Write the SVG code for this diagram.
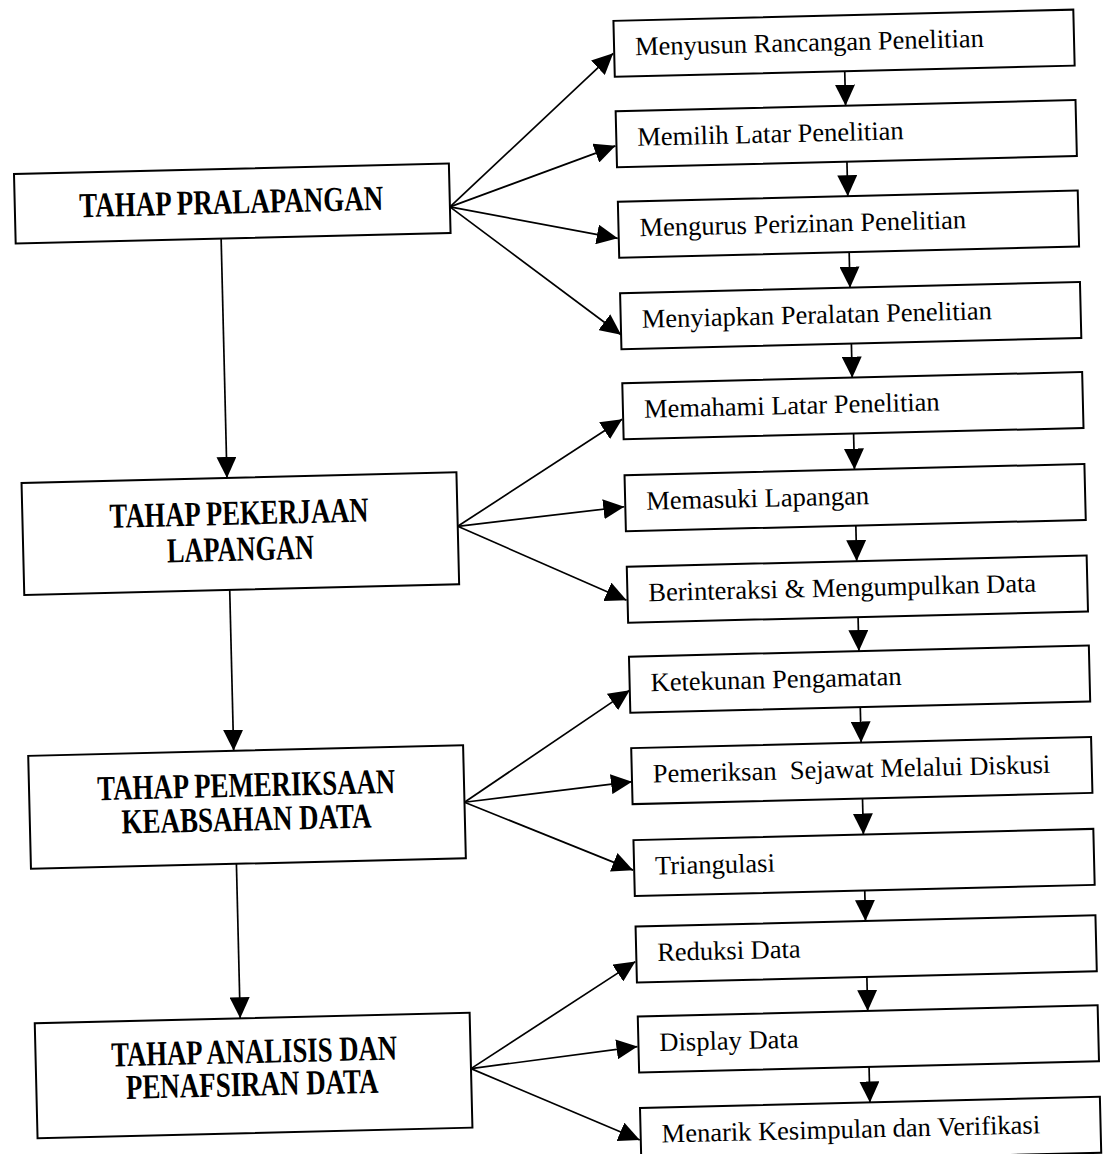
<svg xmlns="http://www.w3.org/2000/svg" width="1107" height="1154" viewBox="0 0 1107 1154">
<defs>
<marker id="ah" markerUnits="userSpaceOnUse" viewBox="0 0 21 20" refX="21" refY="10" markerWidth="21" markerHeight="20" orient="auto"><path d="M0,0 L21,10 L0,20 z" fill="#000"/></marker>
</defs>
<style>
.box{fill:#fff;stroke:#000;stroke-width:2}
.t{font-family:"Liberation Serif","Times New Roman",serif;font-size:26.5px;fill:#000}
.b{font-family:"Liberation Serif","Times New Roman",serif;font-size:35px;font-weight:bold;fill:#000}
.c{stroke:#000;stroke-width:1.7;fill:none;marker-end:url(#ah)}
</style>
<rect width="1107" height="1154" fill="#fff"/>
<g transform="rotate(-1.4 553 577)">
<g id="connectors">
<line class="c" x1="229.5" y1="230.5" x2="229.5" y2="470"/>
<line class="c" x1="229.5" y1="582" x2="229.5" y2="743"/>
<line class="c" x1="229.5" y1="856" x2="229.5" y2="1010.5"/>
<line class="c" x1="857" y1="78.5" x2="857" y2="113"/>
<line class="c" x1="857" y1="169" x2="857" y2="203.5"/>
<line class="c" x1="857" y1="259.5" x2="857" y2="295"/>
<line class="c" x1="857" y1="351" x2="857" y2="385"/>
<line class="c" x1="857" y1="441" x2="857" y2="477"/>
<line class="c" x1="857" y1="533" x2="857" y2="568.5"/>
<line class="c" x1="857" y1="624.5" x2="857" y2="658.5"/>
<line class="c" x1="857" y1="714.5" x2="857" y2="750"/>
<line class="c" x1="857" y1="806" x2="857" y2="842"/>
<line class="c" x1="857" y1="898" x2="857" y2="928.5"/>
<line class="c" x1="857" y1="984.5" x2="857" y2="1018.5"/>
<line class="c" x1="857" y1="1074.5" x2="857" y2="1110"/>
<line class="c" x1="459" y1="204.5" x2="626" y2="55"/>
<line class="c" x1="459" y1="204.5" x2="626" y2="147.5"/>
<line class="c" x1="459" y1="204.5" x2="626" y2="240"/>
<line class="c" x1="459" y1="204.5" x2="627" y2="336.5"/>
<line class="c" x1="459" y1="524" x2="626" y2="421"/>
<line class="c" x1="459" y1="524" x2="626" y2="508.5"/>
<line class="c" x1="459" y1="524" x2="626" y2="602"/>
<line class="c" x1="459" y1="800" x2="627" y2="692"/>
<line class="c" x1="459" y1="800" x2="627" y2="783.5"/>
<line class="c" x1="459" y1="800" x2="626" y2="872"/>
<line class="c" x1="459" y1="1066.5" x2="626" y2="963.5"/>
<line class="c" x1="459" y1="1066.5" x2="626" y2="1048.5"/>
<line class="c" x1="459" y1="1066.5" x2="626" y2="1142"/>
</g>
<g id="pralapangan"><rect class="box" x="24" y="161" width="435" height="69.5"/><text class="b" x="88.4" y="205.8" textLength="304" lengthAdjust="spacingAndGlyphs">TAHAP PRALAPANGAN</text></g>
<g id="pekerjaan"><rect class="box" x="24" y="470" width="435" height="112"/><text class="b" x="111.2" y="517" textLength="259" lengthAdjust="spacingAndGlyphs">TAHAP PEKERJAAN</text><text class="b" x="167.7" y="553" textLength="147" lengthAdjust="spacingAndGlyphs">LAPANGAN</text></g>
<g id="pemeriksaan"><rect class="box" x="24" y="743" width="435" height="113"/><text class="b" x="92.2" y="789" textLength="298" lengthAdjust="spacingAndGlyphs">TAHAP PEMERIKSAAN</text><text class="b" x="115.7" y="823" textLength="250" lengthAdjust="spacingAndGlyphs">KEABSAHAN DATA</text></g>
<g id="analisis"><rect class="box" x="24" y="1010.5" width="435" height="115"/><text class="b" x="99.6" y="1055.5" textLength="286" lengthAdjust="spacingAndGlyphs">TAHAP ANALISIS DAN</text><text class="b" x="113.6" y="1088.3" textLength="252.5" lengthAdjust="spacingAndGlyphs">PENAFSIRAN DATA</text></g>
<g id="n1"><rect class="box" x="627" y="22.5" width="460" height="56"/><text class="t" x="648" y="57.5">Menyusun Rancangan Penelitian</text></g>
<g id="n2"><rect class="box" x="627" y="113" width="460" height="56"/><text class="t" x="648" y="148">Memilih Latar Penelitian</text></g>
<g id="n3"><rect class="box" x="627" y="203.5" width="460" height="56"/><text class="t" x="648" y="238.5">Mengurus Perizinan Penelitian</text></g>
<g id="n4"><rect class="box" x="627" y="295" width="460" height="56"/><text class="t" x="648" y="330">Menyiapkan Peralatan Penelitian</text></g>
<g id="n5"><rect class="box" x="627" y="385" width="460" height="56"/><text class="t" x="648" y="420">Memahami Latar Penelitian</text></g>
<g id="n6"><rect class="box" x="627" y="477" width="460" height="56"/><text class="t" x="648" y="512">Memasuki Lapangan</text></g>
<g id="n7"><rect class="box" x="627" y="568.5" width="460" height="56"/><text class="t" x="648" y="603.5">Berinteraksi &amp; Mengumpulkan Data</text></g>
<g id="n8"><rect class="box" x="627" y="658.5" width="460" height="56"/><text class="t" x="648" y="693.5">Ketekunan Pengamatan</text></g>
<g id="n9"><rect class="box" x="627" y="750" width="460" height="56"/><text class="t" x="648" y="785">Pemeriksan&#160; Sejawat Melalui Diskusi</text></g>
<g id="n10"><rect class="box" x="627" y="842" width="460" height="56"/><text class="t" x="648" y="877">Triangulasi</text></g>
<g id="n11"><rect class="box" x="627" y="928.5" width="460" height="56"/><text class="t" x="648" y="963.5">Reduksi Data</text></g>
<g id="n12"><rect class="box" x="627" y="1018.5" width="460" height="56"/><text class="t" x="648" y="1053.5">Display Data</text></g>
<g id="n13"><rect class="box" x="627" y="1110" width="460" height="56"/><text class="t" x="648" y="1145">Menarik Kesimpulan dan Verifikasi</text></g>
</g>
</svg>
